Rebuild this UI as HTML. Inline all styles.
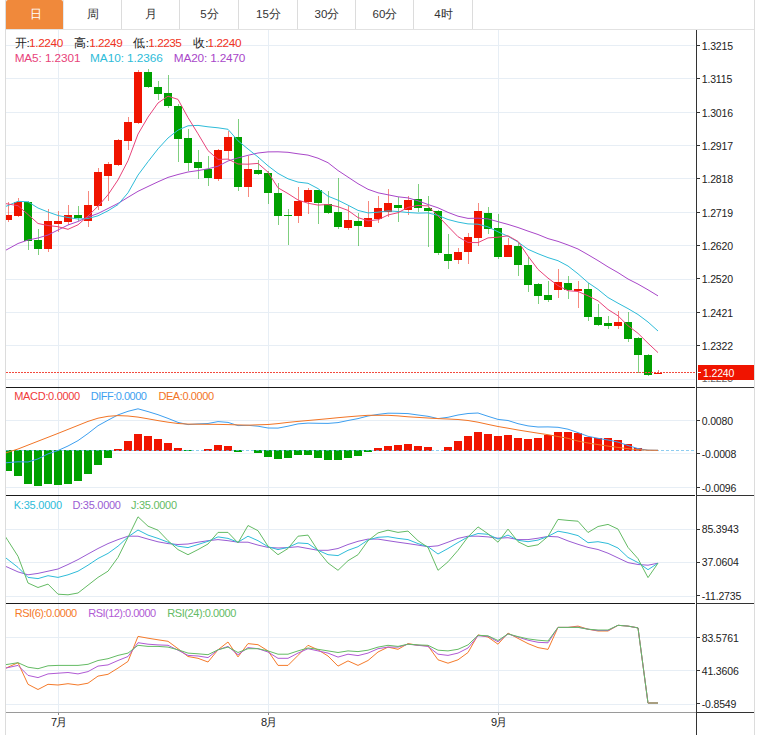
<!DOCTYPE html>
<html><head><meta charset="utf-8">
<style>
html,body{margin:0;padding:0;background:#fff;}
body{width:763px;height:735px;position:relative;overflow:hidden;font-family:"Liberation Sans",sans-serif;}
svg{position:absolute;left:0;top:0;}
.tab{position:absolute;top:0;height:29px;line-height:28px;text-align:center;font-size:11.5px;color:#333;box-sizing:border-box;padding-left:2px;}
.tab.on{background:#f0893b;color:#fff;border-radius:2px 2px 0 0;}
.sep{position:absolute;top:0;width:1px;height:29px;background:#dcdcdc;}
.al{position:absolute;left:702px;font-size:10.5px;line-height:14px;color:#222;white-space:nowrap;}
.tx{position:absolute;line-height:14px;white-space:nowrap;}
.pv{position:absolute;left:5px;top:1px;letter-spacing:-0.15px;font-size:10.5px;line-height:15px}
.xl{position:absolute;top:714px;font-size:12px;line-height:16px;color:#222;text-align:center;width:40px;}
.pricebox{position:absolute;left:698px;top:365px;width:56px;height:15px;background:#f01400;color:#fff;font-size:10.5px;line-height:15px;z-index:5;}
</style></head><body>
<div class="tab on" style="left:6px;width:57px">日</div><div class="tab" style="left:63px;width:58px">周</div><div class="tab" style="left:121px;width:58px">月</div><div class="tab" style="left:179px;width:59px">5分</div><div class="tab" style="left:238px;width:59px">15分</div><div class="tab" style="left:297px;width:58px">30分</div><div class="tab" style="left:355px;width:58px">60分</div><div class="tab" style="left:413px;width:59px">4时</div><div class="sep" style="left:121px"></div><div class="sep" style="left:179px"></div><div class="sep" style="left:238px"></div><div class="sep" style="left:297px"></div><div class="sep" style="left:355px"></div><div class="sep" style="left:413px"></div><div class="sep" style="left:472px"></div><div class="sep" style="left:63px;background:#e3e9ee"></div>
<svg width="763" height="735" viewBox="0 0 763 735">
<g shape-rendering="crispEdges">
<rect x="6" y="45" width="689" height="1" fill="#e7eef5"/>
<rect x="6" y="78" width="689" height="1" fill="#e7eef5"/>
<rect x="6" y="112" width="689" height="1" fill="#e7eef5"/>
<rect x="6" y="145" width="689" height="1" fill="#e7eef5"/>
<rect x="6" y="178" width="689" height="1" fill="#e7eef5"/>
<rect x="6" y="212" width="689" height="1" fill="#e7eef5"/>
<rect x="6" y="245" width="689" height="1" fill="#e7eef5"/>
<rect x="6" y="279" width="689" height="1" fill="#e7eef5"/>
<rect x="6" y="312" width="689" height="1" fill="#e7eef5"/>
<rect x="6" y="345" width="689" height="1" fill="#e7eef5"/>
<rect x="6" y="379" width="689" height="1" fill="#e7eef5"/>
<rect x="6" y="453" width="689" height="1" fill="#f0f4f8"/>
<rect x="6" y="420" width="689" height="1" fill="#e7eef5"/>
<rect x="6" y="487" width="689" height="1" fill="#e7eef5"/>
<rect x="6" y="529" width="689" height="1" fill="#e7eef5"/>
<rect x="6" y="562" width="689" height="1" fill="#e7eef5"/>
<rect x="6" y="596" width="689" height="1" fill="#e7eef5"/>
<rect x="6" y="637" width="689" height="1" fill="#e7eef5"/>
<rect x="6" y="670" width="689" height="1" fill="#e7eef5"/>
<rect x="6" y="704" width="689" height="1" fill="#e7eef5"/>
<rect x="58" y="30" width="1" height="682" fill="#e7eef5"/>
<rect x="268" y="30" width="1" height="682" fill="#e7eef5"/>
<rect x="498" y="30" width="1" height="682" fill="#e7eef5"/>
</g>
<g shape-rendering="crispEdges">
<clipPath id="cl"><rect x="6" y="30" width="690" height="357"/></clipPath>
<g clip-path="url(#cl)">
<rect x="8" y="202" width="1" height="20" fill="#f01400" fill-opacity="0.5"/>
<rect x="4" y="215" width="8" height="5" fill="#f01400"/>
<rect x="18" y="198" width="1" height="19" fill="#f01400" fill-opacity="0.5"/>
<rect x="14" y="202" width="8" height="14" fill="#f01400"/>
<rect x="28" y="201" width="1" height="49" fill="#00a000" fill-opacity="0.5"/>
<rect x="24" y="202" width="8" height="39" fill="#00a000"/>
<rect x="38" y="229" width="1" height="26" fill="#00a000" fill-opacity="0.5"/>
<rect x="34" y="240" width="8" height="9" fill="#00a000"/>
<rect x="48" y="209" width="1" height="43" fill="#f01400" fill-opacity="0.5"/>
<rect x="44" y="221" width="8" height="28" fill="#f01400"/>
<rect x="58" y="211" width="1" height="21" fill="#f01400" fill-opacity="0.5"/>
<rect x="54" y="221" width="8" height="3" fill="#f01400"/>
<rect x="68" y="205" width="1" height="20" fill="#f01400" fill-opacity="0.5"/>
<rect x="64" y="215" width="8" height="7" fill="#f01400"/>
<rect x="78" y="206" width="1" height="15" fill="#00a000" fill-opacity="0.5"/>
<rect x="74" y="215" width="8" height="3" fill="#00a000"/>
<rect x="88" y="191" width="1" height="36" fill="#f01400" fill-opacity="0.5"/>
<rect x="84" y="205" width="8" height="16" fill="#f01400"/>
<rect x="98" y="168" width="1" height="42" fill="#f01400" fill-opacity="0.5"/>
<rect x="94" y="172" width="8" height="34" fill="#f01400"/>
<rect x="108" y="162" width="1" height="39" fill="#f01400" fill-opacity="0.5"/>
<rect x="104" y="164" width="8" height="12" fill="#f01400"/>
<rect x="118" y="139" width="1" height="27" fill="#f01400" fill-opacity="0.5"/>
<rect x="114" y="140" width="8" height="25" fill="#f01400"/>
<rect x="128" y="117" width="1" height="33" fill="#f01400" fill-opacity="0.5"/>
<rect x="124" y="122" width="8" height="19" fill="#f01400"/>
<rect x="138" y="70" width="1" height="54" fill="#f01400" fill-opacity="0.5"/>
<rect x="134" y="72" width="8" height="51" fill="#f01400"/>
<rect x="148" y="69" width="1" height="19" fill="#00a000" fill-opacity="0.5"/>
<rect x="144" y="72" width="8" height="15" fill="#00a000"/>
<rect x="158" y="81" width="1" height="19" fill="#00a000" fill-opacity="0.5"/>
<rect x="154" y="87" width="8" height="7" fill="#00a000"/>
<rect x="168" y="75" width="1" height="33" fill="#00a000" fill-opacity="0.5"/>
<rect x="164" y="93" width="8" height="13" fill="#00a000"/>
<rect x="178" y="104" width="1" height="58" fill="#00a000" fill-opacity="0.5"/>
<rect x="174" y="106" width="8" height="33" fill="#00a000"/>
<rect x="188" y="129" width="1" height="42" fill="#00a000" fill-opacity="0.5"/>
<rect x="184" y="138" width="8" height="25" fill="#00a000"/>
<rect x="198" y="150" width="1" height="29" fill="#00a000" fill-opacity="0.5"/>
<rect x="194" y="162" width="8" height="6" fill="#00a000"/>
<rect x="208" y="156" width="1" height="30" fill="#00a000" fill-opacity="0.5"/>
<rect x="204" y="169" width="8" height="9" fill="#00a000"/>
<rect x="218" y="149" width="1" height="32" fill="#f01400" fill-opacity="0.5"/>
<rect x="214" y="150" width="8" height="29" fill="#f01400"/>
<rect x="228" y="131" width="1" height="28" fill="#f01400" fill-opacity="0.5"/>
<rect x="224" y="137" width="8" height="14" fill="#f01400"/>
<rect x="238" y="119" width="1" height="72" fill="#00a000" fill-opacity="0.5"/>
<rect x="234" y="137" width="8" height="50" fill="#00a000"/>
<rect x="248" y="156" width="1" height="41" fill="#f01400" fill-opacity="0.5"/>
<rect x="244" y="169" width="8" height="18" fill="#f01400"/>
<rect x="258" y="160" width="1" height="15" fill="#00a000" fill-opacity="0.5"/>
<rect x="254" y="170" width="8" height="4" fill="#00a000"/>
<rect x="268" y="171" width="1" height="33" fill="#00a000" fill-opacity="0.5"/>
<rect x="264" y="173" width="8" height="20" fill="#00a000"/>
<rect x="278" y="183" width="1" height="42" fill="#00a000" fill-opacity="0.5"/>
<rect x="274" y="193" width="8" height="23" fill="#00a000"/>
<rect x="288" y="209" width="1" height="36" fill="#00a000" fill-opacity="0.5"/>
<rect x="284" y="215" width="8" height="1" fill="#00a000"/>
<rect x="298" y="187" width="1" height="36" fill="#f01400" fill-opacity="0.5"/>
<rect x="294" y="201" width="8" height="15" fill="#f01400"/>
<rect x="308" y="188" width="1" height="26" fill="#f01400" fill-opacity="0.5"/>
<rect x="304" y="190" width="8" height="12" fill="#f01400"/>
<rect x="318" y="190" width="1" height="34" fill="#00a000" fill-opacity="0.5"/>
<rect x="314" y="190" width="8" height="13" fill="#00a000"/>
<rect x="328" y="191" width="1" height="23" fill="#00a000" fill-opacity="0.5"/>
<rect x="324" y="204" width="8" height="9" fill="#00a000"/>
<rect x="338" y="178" width="1" height="51" fill="#00a000" fill-opacity="0.5"/>
<rect x="334" y="212" width="8" height="15" fill="#00a000"/>
<rect x="348" y="206" width="1" height="24" fill="#f01400" fill-opacity="0.5"/>
<rect x="344" y="220" width="8" height="8" fill="#f01400"/>
<rect x="358" y="213" width="1" height="33" fill="#00a000" fill-opacity="0.5"/>
<rect x="354" y="221" width="8" height="5" fill="#00a000"/>
<rect x="368" y="201" width="1" height="26" fill="#f01400" fill-opacity="0.5"/>
<rect x="364" y="218" width="8" height="9" fill="#f01400"/>
<rect x="378" y="196" width="1" height="27" fill="#f01400" fill-opacity="0.5"/>
<rect x="374" y="208" width="8" height="11" fill="#f01400"/>
<rect x="388" y="189" width="1" height="28" fill="#f01400" fill-opacity="0.5"/>
<rect x="384" y="203" width="8" height="9" fill="#f01400"/>
<rect x="398" y="197" width="1" height="25" fill="#00a000" fill-opacity="0.5"/>
<rect x="394" y="205" width="8" height="3" fill="#00a000"/>
<rect x="408" y="196" width="1" height="19" fill="#f01400" fill-opacity="0.5"/>
<rect x="404" y="200" width="8" height="10" fill="#f01400"/>
<rect x="418" y="184" width="1" height="28" fill="#00a000" fill-opacity="0.5"/>
<rect x="414" y="199" width="8" height="9" fill="#00a000"/>
<rect x="428" y="196" width="1" height="51" fill="#00a000" fill-opacity="0.5"/>
<rect x="424" y="208" width="8" height="3" fill="#00a000"/>
<rect x="438" y="210" width="1" height="45" fill="#00a000" fill-opacity="0.5"/>
<rect x="434" y="211" width="8" height="42" fill="#00a000"/>
<rect x="448" y="234" width="1" height="35" fill="#00a000" fill-opacity="0.5"/>
<rect x="444" y="254" width="8" height="7" fill="#00a000"/>
<rect x="458" y="248" width="1" height="16" fill="#f01400" fill-opacity="0.5"/>
<rect x="454" y="252" width="8" height="8" fill="#f01400"/>
<rect x="468" y="233" width="1" height="31" fill="#f01400" fill-opacity="0.5"/>
<rect x="464" y="237" width="8" height="15" fill="#f01400"/>
<rect x="478" y="203" width="1" height="43" fill="#f01400" fill-opacity="0.5"/>
<rect x="474" y="211" width="8" height="27" fill="#f01400"/>
<rect x="488" y="207" width="1" height="27" fill="#00a000" fill-opacity="0.5"/>
<rect x="484" y="213" width="8" height="16" fill="#00a000"/>
<rect x="498" y="214" width="1" height="45" fill="#00a000" fill-opacity="0.5"/>
<rect x="494" y="228" width="8" height="29" fill="#00a000"/>
<rect x="508" y="238" width="1" height="19" fill="#f01400" fill-opacity="0.5"/>
<rect x="504" y="245" width="8" height="12" fill="#f01400"/>
<rect x="518" y="243" width="1" height="33" fill="#00a000" fill-opacity="0.5"/>
<rect x="514" y="246" width="8" height="19" fill="#00a000"/>
<rect x="528" y="257" width="1" height="35" fill="#00a000" fill-opacity="0.5"/>
<rect x="524" y="265" width="8" height="20" fill="#00a000"/>
<rect x="538" y="283" width="1" height="21" fill="#00a000" fill-opacity="0.5"/>
<rect x="534" y="284" width="8" height="12" fill="#00a000"/>
<rect x="548" y="281" width="1" height="21" fill="#00a000" fill-opacity="0.5"/>
<rect x="544" y="295" width="8" height="5" fill="#00a000"/>
<rect x="558" y="269" width="1" height="29" fill="#f01400" fill-opacity="0.5"/>
<rect x="554" y="282" width="8" height="8" fill="#f01400"/>
<rect x="568" y="276" width="1" height="23" fill="#00a000" fill-opacity="0.5"/>
<rect x="564" y="283" width="8" height="7" fill="#00a000"/>
<rect x="578" y="281" width="1" height="27" fill="#f01400" fill-opacity="0.5"/>
<rect x="574" y="289" width="8" height="2" fill="#f01400"/>
<rect x="588" y="283" width="1" height="38" fill="#00a000" fill-opacity="0.5"/>
<rect x="584" y="289" width="8" height="28" fill="#00a000"/>
<rect x="598" y="304" width="1" height="22" fill="#00a000" fill-opacity="0.5"/>
<rect x="594" y="317" width="8" height="8" fill="#00a000"/>
<rect x="608" y="316" width="1" height="13" fill="#00a000" fill-opacity="0.5"/>
<rect x="604" y="323" width="8" height="3" fill="#00a000"/>
<rect x="618" y="311" width="1" height="18" fill="#f01400" fill-opacity="0.5"/>
<rect x="614" y="322" width="8" height="4" fill="#f01400"/>
<rect x="628" y="312" width="1" height="30" fill="#00a000" fill-opacity="0.5"/>
<rect x="624" y="322" width="8" height="17" fill="#00a000"/>
<rect x="638" y="337" width="1" height="36" fill="#00a000" fill-opacity="0.5"/>
<rect x="634" y="338" width="8" height="17" fill="#00a000"/>
<rect x="648" y="354" width="1" height="22" fill="#00a000" fill-opacity="0.5"/>
<rect x="644" y="355" width="8" height="20" fill="#00a000"/>
<rect x="658" y="370" width="1" height="4" fill="#f01400" fill-opacity="0.5"/>
<rect x="654" y="373" width="8" height="1" fill="#f01400"/>
</g></g>
<g clip-path="url(#cl)">
<polyline points="-2.0,254.5 8.0,249.0 18.0,243.5 28.0,240.0 38.0,238.0 48.0,235.0 58.0,230.0 68.0,225.0 78.0,221.5 88.0,217.0 98.0,213.5 108.0,208.5 118.0,203.4 128.0,197.3 138.0,191.3 148.0,186.5 158.0,181.8 168.0,177.4 178.0,174.5 188.0,172.0 198.0,170.6 208.0,168.8 218.0,166.2 228.0,161.0 238.0,157.9 248.0,155.3 258.0,153.0 268.0,151.9 278.0,151.8 288.0,152.3 298.0,153.8 308.0,155.1 318.0,158.2 328.0,162.7 338.0,170.5 348.0,177.1 358.0,183.7 368.0,189.3 378.0,192.8 388.0,194.8 398.0,196.8 408.0,197.9 418.0,200.8 428.0,204.5 438.0,207.8 448.0,212.4 458.0,216.2 468.0,218.4 478.0,218.2 488.0,218.9 498.0,221.7 508.0,224.4 518.0,227.5 528.0,231.1 538.0,234.5 548.0,238.6 558.0,241.4 568.0,245.0 578.0,249.0 588.0,254.7 598.0,260.6 608.0,266.9 618.0,272.6 628.0,279.0 638.0,284.1 648.0,289.8 658.0,295.9" fill="none" stroke="#a947c9" stroke-width="1" stroke-linejoin="round" />
<polyline points="-2.0,209.7 8.0,205.5 18.0,201.3 28.0,201.8 38.0,208.0 48.0,212.0 58.0,215.5 68.0,217.5 78.0,219.0 88.0,218.5 98.0,215.8 108.0,210.8 118.0,204.6 128.0,192.8 138.0,175.1 148.0,161.7 158.0,148.9 168.0,138.0 178.0,130.1 188.0,125.8 198.0,125.4 208.0,126.8 218.0,127.8 228.0,129.3 238.0,140.8 248.0,149.0 258.0,157.0 268.0,165.8 278.0,173.4 288.0,178.8 298.0,182.1 308.0,183.3 318.0,188.6 328.0,196.2 338.0,200.2 348.0,205.2 358.0,210.4 368.0,212.9 378.0,212.2 388.0,210.9 398.0,211.5 408.0,212.5 418.0,213.1 428.0,212.9 438.0,215.4 448.0,219.5 458.0,222.1 468.0,223.9 478.0,224.2 488.0,226.9 498.0,231.8 508.0,236.3 518.0,242.0 528.0,249.3 538.0,253.7 548.0,257.6 558.0,260.7 568.0,266.0 578.0,273.8 588.0,282.6 598.0,289.4 608.0,297.5 618.0,303.2 628.0,308.6 638.0,314.5 648.0,322.0 658.0,331.0" fill="none" stroke="#2ebcd9" stroke-width="1" stroke-linejoin="round" />
<polyline points="-2.0,202.3 8.0,204.0 18.0,205.7 28.0,214.5 38.0,223.5 48.0,225.5 58.0,226.7 68.0,229.3 78.0,224.8 88.0,216.0 98.0,206.2 108.0,194.8 118.0,179.9 128.0,160.7 138.0,134.1 148.0,117.1 158.0,103.0 168.0,96.2 178.0,99.4 188.0,117.6 198.0,133.8 208.0,150.6 218.0,159.4 228.0,159.1 238.0,164.0 248.0,164.2 258.0,163.4 268.0,172.1 278.0,187.8 288.0,193.6 298.0,200.0 308.0,203.2 318.0,205.1 328.0,204.5 338.0,206.7 348.0,210.4 358.0,217.6 368.0,220.8 378.0,219.8 388.0,215.0 398.0,212.7 408.0,207.4 418.0,205.4 428.0,205.9 438.0,215.9 448.0,226.4 458.0,236.7 468.0,242.5 478.0,242.6 488.0,237.9 498.0,237.2 508.0,235.8 518.0,241.4 528.0,256.1 538.0,269.4 548.0,278.1 558.0,285.6 568.0,290.7 578.0,291.5 588.0,295.8 598.0,300.8 608.0,309.5 618.0,315.8 628.0,325.7 638.0,333.3 648.0,343.2 658.0,352.6" fill="none" stroke="#e8437a" stroke-width="1" stroke-linejoin="round" />
</g>
<line x1="6" y1="372.5" x2="696" y2="372.5" stroke="#f24a3e" stroke-width="1" stroke-dasharray="2,1" shape-rendering="crispEdges"/>
<clipPath id="c2"><rect x="6" y="388" width="690" height="107"/></clipPath>
<g clip-path="url(#c2)">
<g shape-rendering="crispEdges">
<rect x="4" y="450" width="8" height="21" fill="#00a000"/>
<rect x="14" y="450" width="8" height="26" fill="#00a000"/>
<rect x="24" y="450" width="8" height="34" fill="#00a000"/>
<rect x="34" y="450" width="8" height="36" fill="#00a000"/>
<rect x="44" y="450" width="8" height="34" fill="#00a000"/>
<rect x="54" y="450" width="8" height="35" fill="#00a000"/>
<rect x="64" y="450" width="8" height="34" fill="#00a000"/>
<rect x="74" y="450" width="8" height="31" fill="#00a000"/>
<rect x="84" y="450" width="8" height="24" fill="#00a000"/>
<rect x="94" y="450" width="8" height="15" fill="#00a000"/>
<rect x="104" y="450" width="8" height="8" fill="#00a000"/>
<rect x="114" y="449" width="8" height="2" fill="#f01400"/>
<rect x="124" y="441" width="8" height="10" fill="#f01400"/>
<rect x="134" y="434" width="8" height="17" fill="#f01400"/>
<rect x="144" y="436" width="8" height="15" fill="#f01400"/>
<rect x="154" y="439" width="8" height="12" fill="#f01400"/>
<rect x="164" y="443" width="8" height="8" fill="#f01400"/>
<rect x="174" y="448" width="8" height="3" fill="#f01400"/>
<rect x="184" y="450" width="8" height="1" fill="#00a000"/>
<rect x="204" y="449" width="8" height="2" fill="#f01400"/>
<rect x="214" y="445" width="8" height="6" fill="#f01400"/>
<rect x="224" y="446" width="8" height="5" fill="#f01400"/>
<rect x="234" y="450" width="8" height="2" fill="#00a000"/>
<rect x="254" y="450" width="8" height="3" fill="#00a000"/>
<rect x="264" y="450" width="8" height="7" fill="#00a000"/>
<rect x="274" y="450" width="8" height="9" fill="#00a000"/>
<rect x="284" y="450" width="8" height="8" fill="#00a000"/>
<rect x="294" y="450" width="8" height="5" fill="#00a000"/>
<rect x="304" y="450" width="8" height="5" fill="#00a000"/>
<rect x="314" y="450" width="8" height="8" fill="#00a000"/>
<rect x="324" y="450" width="8" height="10" fill="#00a000"/>
<rect x="334" y="450" width="8" height="10" fill="#00a000"/>
<rect x="344" y="450" width="8" height="8" fill="#00a000"/>
<rect x="354" y="450" width="8" height="6" fill="#00a000"/>
<rect x="364" y="450" width="8" height="2" fill="#00a000"/>
<rect x="374" y="448" width="8" height="3" fill="#f01400"/>
<rect x="384" y="446" width="8" height="5" fill="#f01400"/>
<rect x="394" y="445" width="8" height="6" fill="#f01400"/>
<rect x="404" y="444" width="8" height="7" fill="#f01400"/>
<rect x="414" y="446" width="8" height="5" fill="#f01400"/>
<rect x="424" y="447" width="8" height="4" fill="#f01400"/>
<rect x="444" y="447" width="8" height="4" fill="#f01400"/>
<rect x="454" y="441" width="8" height="10" fill="#f01400"/>
<rect x="464" y="436" width="8" height="15" fill="#f01400"/>
<rect x="474" y="432" width="8" height="19" fill="#f01400"/>
<rect x="484" y="434" width="8" height="17" fill="#f01400"/>
<rect x="494" y="436" width="8" height="15" fill="#f01400"/>
<rect x="504" y="435" width="8" height="16" fill="#f01400"/>
<rect x="514" y="438" width="8" height="13" fill="#f01400"/>
<rect x="524" y="439" width="8" height="12" fill="#f01400"/>
<rect x="534" y="438" width="8" height="13" fill="#f01400"/>
<rect x="544" y="435" width="8" height="16" fill="#f01400"/>
<rect x="554" y="432" width="8" height="19" fill="#f01400"/>
<rect x="564" y="432" width="8" height="19" fill="#f01400"/>
<rect x="574" y="433" width="8" height="18" fill="#f01400"/>
<rect x="584" y="437" width="8" height="14" fill="#f01400"/>
<rect x="594" y="438" width="8" height="13" fill="#f01400"/>
<rect x="604" y="438" width="8" height="13" fill="#f01400"/>
<rect x="614" y="440" width="8" height="11" fill="#f01400"/>
<rect x="624" y="444" width="8" height="7" fill="#f01400"/>
<rect x="634" y="448" width="8" height="3" fill="#f01400"/>
</g>
<line x1="6" y1="450.5" x2="696" y2="450.5" stroke="#5fb8ea" stroke-opacity="0.7" stroke-width="1" stroke-dasharray="3,2" shape-rendering="crispEdges"/>
<polyline points="-2.0,463.5 8.0,462.6 18.0,461.8 28.0,462.0 38.0,458.9 48.0,453.9 58.0,450.5 68.0,446.0 78.0,440.6 88.0,433.5 98.0,425.7 108.0,420.2 118.0,414.9 128.0,411.3 138.0,408.8 148.0,411.6 158.0,414.7 168.0,418.4 178.0,422.4 188.0,424.6 198.0,423.9 208.0,423.5 218.0,421.6 228.0,422.4 238.0,425.6 248.0,425.3 258.0,426.2 268.0,428.0 278.0,428.1 288.0,426.2 298.0,423.9 308.0,423.1 318.0,423.3 328.0,423.4 338.0,422.6 348.0,420.5 358.0,418.6 368.0,416.0 378.0,414.4 388.0,413.2 398.0,413.3 408.0,413.6 418.0,415.0 428.0,416.3 438.0,418.6 448.0,417.3 458.0,415.0 468.0,413.5 478.0,413.0 488.0,416.3 498.0,419.4 508.0,420.5 518.0,423.7 528.0,425.9 538.0,427.0 548.0,426.9 558.0,427.3 568.0,429.2 578.0,432.6 588.0,436.3 598.0,438.3 608.0,440.0 618.0,442.1 628.0,445.5 638.0,448.6 648.0,450.2 658.0,450.3" fill="none" stroke="#3d9ff0" stroke-width="1" stroke-linejoin="round" />
<polyline points="-2.0,455.3 8.0,452.2 18.0,449.0 28.0,445.1 38.0,441.2 48.0,437.3 58.0,433.4 68.0,429.4 78.0,425.4 88.0,421.4 98.0,418.2 108.0,416.3 118.0,415.6 128.0,416.0 138.0,417.1 148.0,418.8 158.0,420.6 168.0,422.2 178.0,423.5 188.0,424.1 198.0,424.2 208.0,424.3 218.0,424.4 228.0,424.6 238.0,424.9 248.0,425.2 258.0,424.8 268.0,424.5 278.0,423.6 288.0,422.4 298.0,421.4 308.0,420.5 318.0,419.6 328.0,418.7 338.0,417.7 348.0,416.8 358.0,416.0 368.0,415.3 378.0,415.3 388.0,415.3 398.0,415.9 408.0,416.8 418.0,417.4 428.0,418.0 438.0,418.6 448.0,419.0 458.0,419.5 468.0,420.5 478.0,422.2 488.0,424.4 498.0,426.5 508.0,428.2 518.0,430.0 528.0,431.6 538.0,433.2 548.0,434.7 558.0,436.5 568.0,438.3 578.0,441.1 588.0,443.0 598.0,444.6 608.0,446.1 618.0,447.4 628.0,448.7 638.0,449.7 648.0,450.2 658.0,450.3" fill="none" stroke="#f27425" stroke-width="1" stroke-linejoin="round" />
</g>
<clipPath id="c3"><rect x="6" y="496" width="690" height="107"/></clipPath>
<g clip-path="url(#c3)">
<polyline points="-2.0,562.9 8.0,567.4 18.0,571.9 28.0,574.8 38.0,573.4 48.0,571.2 58.0,569.0 68.0,564.5 78.0,559.6 88.0,554.0 98.0,548.5 108.0,543.6 118.0,539.6 128.0,536.2 138.0,536.2 148.0,539.1 158.0,541.8 168.0,543.6 178.0,544.5 188.0,544.0 198.0,542.2 208.0,540.7 218.0,539.6 228.0,540.7 238.0,542.2 248.0,542.2 258.0,545.1 268.0,547.4 278.0,548.0 288.0,547.6 298.0,546.7 308.0,548.5 318.0,550.3 328.0,550.3 338.0,548.5 348.0,544.5 358.0,541.3 368.0,539.1 378.0,539.1 388.0,540.7 398.0,542.2 408.0,543.6 418.0,545.1 428.0,546.7 438.0,545.8 448.0,542.2 458.0,538.4 468.0,536.2 478.0,536.2 488.0,536.9 498.0,538.2 508.0,537.7 518.0,539.6 528.0,539.6 538.0,538.2 548.0,536.4 558.0,536.9 568.0,540.9 578.0,544.3 588.0,547.4 598.0,549.5 608.0,553.2 618.0,557.9 628.0,562.6 638.0,564.5 648.0,565.2 658.0,563.2" fill="none" stroke="#9a5cd3" stroke-width="1" stroke-linejoin="round" />
<polyline points="-2.0,551.8 8.0,559.6 18.0,567.4 28.0,577.4 38.0,578.6 48.0,575.7 58.0,577.4 68.0,574.8 78.0,571.2 88.0,565.2 98.0,558.5 108.0,553.4 118.0,546.2 128.0,536.9 138.0,530.0 148.0,535.1 158.0,538.4 168.0,542.2 178.0,546.2 188.0,547.6 198.0,544.5 208.0,541.3 218.0,536.9 228.0,538.4 238.0,542.2 248.0,536.2 258.0,540.7 268.0,546.7 278.0,549.6 288.0,547.4 298.0,542.9 308.0,543.6 318.0,550.3 328.0,554.7 338.0,555.6 348.0,550.3 358.0,546.7 368.0,540.0 378.0,537.3 388.0,536.7 398.0,538.4 408.0,539.6 418.0,543.6 428.0,546.7 438.0,554.0 448.0,548.5 458.0,542.5 468.0,536.9 478.0,533.5 488.0,534.3 498.0,539.0 508.0,535.1 518.0,540.3 528.0,541.7 538.0,540.1 548.0,536.4 558.0,531.2 568.0,533.0 578.0,535.6 588.0,542.7 598.0,541.7 608.0,543.5 618.0,548.0 628.0,557.4 638.0,562.6 648.0,569.7 658.0,563.2" fill="none" stroke="#2ebcd9" stroke-width="1" stroke-linejoin="round" />
<polyline points="-2.0,525.1 8.0,540.7 18.0,556.3 28.0,583.0 38.0,587.5 48.0,584.1 58.0,594.2 68.0,594.8 78.0,593.0 88.0,585.2 98.0,577.4 108.0,571.2 118.0,557.4 128.0,537.3 138.0,516.8 148.0,526.2 158.0,530.2 168.0,540.7 178.0,549.6 188.0,554.7 198.0,549.6 208.0,544.0 218.0,532.4 228.0,532.4 238.0,542.9 248.0,525.5 258.0,530.7 268.0,546.2 278.0,554.7 288.0,548.5 298.0,536.2 308.0,535.1 318.0,550.7 328.0,563.0 338.0,570.3 348.0,560.7 358.0,554.7 368.0,540.7 378.0,532.9 388.0,530.2 398.0,532.4 408.0,531.1 418.0,540.7 428.0,547.4 438.0,570.3 448.0,561.8 458.0,550.3 468.0,536.9 478.0,526.9 488.0,533.8 498.0,542.2 508.0,529.1 518.0,541.7 528.0,546.6 538.0,544.8 548.0,536.4 558.0,519.4 568.0,520.4 578.0,521.2 588.0,532.5 598.0,526.5 608.0,524.4 618.0,529.1 628.0,547.4 638.0,558.7 648.0,577.6 658.0,563.2" fill="none" stroke="#64bb64" stroke-width="1" stroke-linejoin="round" />
</g>
<clipPath id="c4"><rect x="6" y="604" width="690" height="108"/></clipPath>
<g clip-path="url(#c4)">
<polyline points="-2.0,671.7 8.0,667.2 18.0,662.7 28.0,684.3 38.0,689.5 48.0,684.3 58.0,685.0 68.0,683.7 78.0,685.0 88.0,683.2 98.0,676.1 108.0,674.3 118.0,668.1 128.0,661.4 138.0,636.4 148.0,638.2 158.0,639.8 168.0,641.3 178.0,648.7 188.0,656.5 198.0,658.3 208.0,662.0 218.0,649.8 228.0,642.0 238.0,656.9 248.0,643.6 258.0,644.7 268.0,650.9 278.0,665.4 288.0,665.4 298.0,655.4 308.0,645.3 318.0,649.8 328.0,656.0 338.0,666.1 348.0,660.9 358.0,665.4 368.0,660.5 378.0,652.0 388.0,647.1 398.0,649.3 408.0,643.6 418.0,645.3 428.0,645.8 438.0,659.8 448.0,663.2 458.0,659.8 468.0,652.5 478.0,634.9 488.0,637.1 498.0,644.2 508.0,633.1 518.0,638.4 528.0,643.6 538.0,647.6 548.0,649.4 558.0,627.4 568.0,627.4 578.0,626.1 588.0,629.2 598.0,631.0 608.0,631.0 618.0,625.3 628.0,626.1 638.0,627.9 648.0,703.1 658.0,703.1" fill="none" stroke="#f57a2a" stroke-width="1" stroke-linejoin="round" />
<polyline points="-2.0,669.8 8.0,667.6 18.0,665.4 28.0,675.4 38.0,677.6 48.0,673.9 58.0,673.2 68.0,672.5 78.0,673.9 88.0,671.6 98.0,666.1 108.0,664.9 118.0,660.5 128.0,656.5 138.0,642.7 148.0,644.2 158.0,644.9 168.0,645.3 178.0,650.2 188.0,655.4 198.0,656.0 208.0,657.6 218.0,649.8 228.0,646.4 238.0,654.7 248.0,647.6 258.0,648.7 268.0,652.0 278.0,658.3 288.0,658.3 298.0,653.1 308.0,648.7 318.0,650.9 328.0,653.1 338.0,657.1 348.0,654.2 358.0,655.6 368.0,653.1 378.0,648.7 388.0,647.1 398.0,647.1 408.0,644.2 418.0,645.3 428.0,646.4 438.0,654.2 448.0,655.4 458.0,653.1 468.0,648.0 478.0,635.8 488.0,636.3 498.0,641.8 508.0,633.9 518.0,637.1 528.0,640.2 538.0,642.3 548.0,642.8 558.0,627.4 568.0,627.4 578.0,627.1 588.0,629.2 598.0,630.5 608.0,630.5 618.0,625.3 628.0,626.1 638.0,627.9 648.0,703.1 658.0,703.1" fill="none" stroke="#b05ad4" stroke-width="1" stroke-linejoin="round" />
<polyline points="-2.0,665.9 8.0,664.3 18.0,662.7 28.0,667.2 38.0,668.7 48.0,665.8 58.0,665.4 68.0,665.4 78.0,665.4 88.0,664.3 98.0,660.5 108.0,658.7 118.0,655.4 128.0,653.1 138.0,645.3 148.0,646.4 158.0,646.4 168.0,647.1 178.0,649.8 188.0,653.1 198.0,653.8 208.0,654.7 218.0,649.8 228.0,647.1 238.0,652.5 248.0,648.7 258.0,648.7 268.0,650.9 278.0,654.2 288.0,654.2 298.0,650.9 308.0,648.0 318.0,649.3 328.0,650.9 338.0,652.5 348.0,650.9 358.0,651.6 368.0,650.2 378.0,647.1 388.0,645.3 398.0,646.4 408.0,644.2 418.0,644.9 428.0,645.3 438.0,650.2 448.0,650.9 458.0,649.3 468.0,644.9 478.0,635.3 488.0,635.8 498.0,640.5 508.0,633.9 518.0,636.6 528.0,638.9 538.0,640.2 548.0,641.0 558.0,627.4 568.0,627.4 578.0,627.4 588.0,629.2 598.0,630.0 608.0,630.0 618.0,625.3 628.0,626.1 638.0,627.9 648.0,703.1 658.0,703.1" fill="none" stroke="#64bb64" stroke-width="1" stroke-linejoin="round" />
<rect x="648" y="702" width="10" height="2" fill="#a89e80"/>
</g>
<g shape-rendering="crispEdges">
<rect x="5" y="0" width="1" height="735" fill="#dcdcdc"/>
<rect x="754" y="0" width="1" height="735" fill="#dcdcdc"/>
<rect x="6" y="29" width="748" height="1" fill="#e2e2e2"/>
<rect x="6" y="387" width="689" height="1" fill="#1a1a1a"/>
<rect x="697" y="387" width="57" height="1" fill="#333"/>
<rect x="6" y="495" width="689" height="1" fill="#1a1a1a"/>
<rect x="697" y="495" width="57" height="1" fill="#333"/>
<rect x="6" y="603" width="689" height="1" fill="#1a1a1a"/>
<rect x="697" y="603" width="57" height="1" fill="#333"/>
<rect x="6" y="712" width="690" height="1" fill="#9a9a9a"/>
<rect x="697" y="712" width="57" height="1" fill="#333"/>
<rect x="696" y="30" width="1" height="705" fill="#333"/>
<rect x="697" y="45" width="3" height="1" fill="#333"/>
<rect x="697" y="78" width="3" height="1" fill="#333"/>
<rect x="697" y="112" width="3" height="1" fill="#333"/>
<rect x="697" y="145" width="3" height="1" fill="#333"/>
<rect x="697" y="178" width="3" height="1" fill="#333"/>
<rect x="697" y="212" width="3" height="1" fill="#333"/>
<rect x="697" y="245" width="3" height="1" fill="#333"/>
<rect x="697" y="278" width="3" height="1" fill="#333"/>
<rect x="697" y="312" width="3" height="1" fill="#333"/>
<rect x="697" y="345" width="3" height="1" fill="#333"/>
<rect x="697" y="420" width="3" height="1" fill="#333"/>
<rect x="697" y="453" width="3" height="1" fill="#333"/>
<rect x="697" y="487" width="3" height="1" fill="#333"/>
<rect x="697" y="529" width="3" height="1" fill="#333"/>
<rect x="697" y="562" width="3" height="1" fill="#333"/>
<rect x="697" y="595" width="3" height="1" fill="#333"/>
<rect x="697" y="637" width="3" height="1" fill="#333"/>
<rect x="697" y="670" width="3" height="1" fill="#333"/>
<rect x="697" y="703" width="3" height="1" fill="#333"/>
<rect x="58" y="713" width="1" height="2" fill="#888"/>
<rect x="268" y="713" width="1" height="2" fill="#888"/>
<rect x="498" y="713" width="1" height="2" fill="#888"/>
</g>
</svg>

<div class="pricebox"><span style="position:absolute;left:0;top:7px;width:3px;height:1px;background:#fff"></span><span class="pv">1.2240</span></div>
<div class="tx" id="t0" style="left:14.58px;top:36px;font-size:11.8px;color:#222;letter-spacing:0.000px">开:</div>
<div class="tx" id="t1" style="left:29.10px;top:36px;font-size:11.8px;color:#f03323;letter-spacing:-0.378px">1.2240</div>
<div class="tx" id="t2" style="left:74.00px;top:36px;font-size:11.8px;color:#222;letter-spacing:0.000px">高:</div>
<div class="tx" id="t3" style="left:89.26px;top:36px;font-size:11.8px;color:#f03323;letter-spacing:-0.522px">1.2249</div>
<div class="tx" id="t4" style="left:133.42px;top:36px;font-size:11.8px;color:#222;letter-spacing:0.000px">低:</div>
<div class="tx" id="t5" style="left:148.31px;top:36px;font-size:11.8px;color:#f03323;letter-spacing:-0.504px">1.2235</div>
<div class="tx" id="t6" style="left:193.21px;top:36px;font-size:11.8px;color:#222;letter-spacing:0.000px">收:</div>
<div class="tx" id="t7" style="left:207.52px;top:36px;font-size:11.8px;color:#f03323;letter-spacing:-0.432px">1.2240</div>
<div class="tx" id="t8" style="left:14.63px;top:51px;font-size:11.8px;color:#e8437a;letter-spacing:-0.108px">MA5: 1.2301</div>
<div class="tx" id="t9" style="left:90.05px;top:51px;font-size:11.8px;color:#2ebcd9;letter-spacing:-0.057px">MA10: 1.2366</div>
<div class="tx" id="t10" style="left:173.84px;top:51px;font-size:11.8px;color:#a947c9;letter-spacing:-0.172px">MA20: 1.2470</div>
<div class="tx" id="t11" style="left:14.26px;top:389px;font-size:11px;color:#f03a3a;letter-spacing:-0.315px">MACD:0.0000</div>
<div class="tx" id="t12" style="left:90.68px;top:389px;font-size:11px;color:#3d9ff0;letter-spacing:-0.486px">DIFF:0.0000</div>
<div class="tx" id="t13" style="left:158.42px;top:389px;font-size:11px;color:#f27425;letter-spacing:-0.410px">DEA:0.0000</div>
<div class="tx" id="t14" style="left:13.68px;top:498px;font-size:11px;color:#2ebcd9;letter-spacing:-0.214px">K:35.0000</div>
<div class="tx" id="t15" style="left:72.42px;top:498px;font-size:11px;color:#9a5cd3;letter-spacing:-0.281px">D:35.0000</div>
<div class="tx" id="t16" style="left:131.00px;top:498px;font-size:11px;color:#64bb64;letter-spacing:-0.281px">J:35.0000</div>
<div class="tx" id="t17" style="left:14.79px;top:606px;font-size:11px;color:#f57a2a;letter-spacing:-0.510px">RSI(6):0.0000</div>
<div class="tx" id="t18" style="left:88.21px;top:606px;font-size:11px;color:#b05ad4;letter-spacing:-0.512px">RSI(12):0.0000</div>
<div class="tx" id="t19" style="left:167.26px;top:606px;font-size:11px;color:#64bb64;letter-spacing:-0.429px">RSI(24):0.0000</div>
<div class="tx" id="t20" style="left:701.70px;top:39px;font-size:10.5px;color:#222;letter-spacing:-0.150px">1.3215</div>
<div class="tx" id="t21" style="left:701.70px;top:72px;font-size:10.5px;color:#222;letter-spacing:-0.150px">1.3115</div>
<div class="tx" id="t22" style="left:701.70px;top:106px;font-size:10.5px;color:#222;letter-spacing:-0.150px">1.3016</div>
<div class="tx" id="t23" style="left:701.70px;top:139px;font-size:10.5px;color:#222;letter-spacing:-0.150px">1.2917</div>
<div class="tx" id="t24" style="left:701.70px;top:172px;font-size:10.5px;color:#222;letter-spacing:-0.150px">1.2818</div>
<div class="tx" id="t25" style="left:701.70px;top:206px;font-size:10.5px;color:#222;letter-spacing:-0.150px">1.2719</div>
<div class="tx" id="t26" style="left:701.70px;top:239px;font-size:10.5px;color:#222;letter-spacing:-0.150px">1.2620</div>
<div class="tx" id="t27" style="left:701.70px;top:272px;font-size:10.5px;color:#222;letter-spacing:-0.150px">1.2520</div>
<div class="tx" id="t28" style="left:701.70px;top:306px;font-size:10.5px;color:#222;letter-spacing:-0.150px">1.2421</div>
<div class="tx" id="t29" style="left:701.70px;top:339px;font-size:10.5px;color:#222;letter-spacing:-0.150px">1.2322</div>
<div class="tx" id="t30" style="left:701.70px;top:371px;font-size:10.5px;color:#666;letter-spacing:-0.150px">1.2223</div>
<div class="tx" id="t31" style="left:701.70px;top:414px;font-size:10.5px;color:#222;letter-spacing:-0.150px">0.0080</div>
<div class="tx" id="t32" style="left:701.70px;top:447px;font-size:10.5px;color:#222;letter-spacing:-0.150px">-0.0008</div>
<div class="tx" id="t33" style="left:701.70px;top:481px;font-size:10.5px;color:#222;letter-spacing:-0.150px">-0.0096</div>
<div class="tx" id="t34" style="left:701.70px;top:522px;font-size:10.5px;color:#222;letter-spacing:-0.150px">85.3943</div>
<div class="tx" id="t35" style="left:701.70px;top:555px;font-size:10.5px;color:#222;letter-spacing:-0.150px">37.0604</div>
<div class="tx" id="t36" style="left:701.70px;top:589px;font-size:10.5px;color:#222;letter-spacing:-0.150px">-11.2735</div>
<div class="tx" id="t37" style="left:701.70px;top:631px;font-size:10.5px;color:#222;letter-spacing:-0.150px">83.5761</div>
<div class="tx" id="t38" style="left:701.70px;top:664px;font-size:10.5px;color:#222;letter-spacing:-0.150px">41.3606</div>
<div class="tx" id="t39" style="left:701.70px;top:697px;font-size:10.5px;color:#222;letter-spacing:-0.150px">-0.8549</div>
<div class="tx" id="t40" style="left:51.00px;top:715px;font-size:11px;color:#222;letter-spacing:-0.900px">7月</div>
<div class="tx" id="t41" style="left:261.00px;top:715px;font-size:11px;color:#222;letter-spacing:-0.900px">8月</div>
<div class="tx" id="t42" style="left:491.00px;top:715px;font-size:11px;color:#222;letter-spacing:-0.900px">9月</div>

</body></html>
